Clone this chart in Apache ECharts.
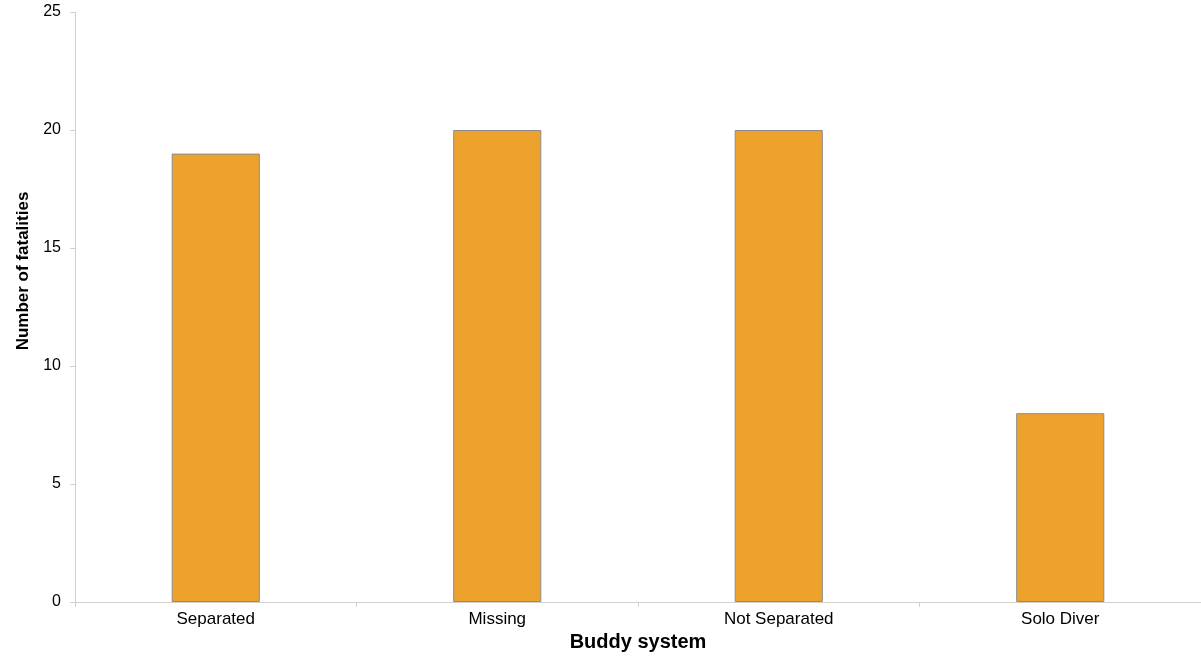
<!DOCTYPE html>
<html><head><meta charset="utf-8">
<script src="https://cdn.jsdelivr.net/npm/echarts@6/dist/echarts.min.js"></script>
<style>html,body{margin:0;padding:0;background:#fff}#c{width:1201px;height:656px}</style>
</head><body><div id="c"></div>
<script>
var categories = ["Separated", "Missing", "Not Separated", "Solo Diver"];
var fatalities = [19, 20, 20, 8];
var yTicks = [0, 5, 10, 15, 20, 25];

var chart = echarts.init(document.getElementById('c'), null, {renderer: 'canvas'});
chart.setOption({
  animation: false,
  backgroundColor: '#fff',
  grid: {left: 75, right: 0, top: 12, bottom: 54, containLabel: false, outerBoundsMode: 'none'},
  xAxis: {
    type: 'category', data: categories,
    name: 'Buddy system', nameLocation: 'middle', nameGap: 30,
    nameTextStyle: {fontFamily: 'Liberation Sans', fontWeight: 'bold', fontSize: 20, color: '#000'},
    axisLine: {lineStyle: {color: '#d0d0d0', width: 1}},
    axisTick: {show: true, length: 5, alignWithLabel: false, lineStyle: {color: '#d0d0d0'}},
    axisLabel: {fontFamily: 'Liberation Sans', fontSize: 17, color: '#000', margin: 9}
  },
  yAxis: {
    type: 'value', min: yTicks[0], max: yTicks[yTicks.length - 1], interval: 5,
    name: 'Number of fatalities', nameLocation: 'middle', nameGap: 43, nameRotate: 90,
    nameTextStyle: {fontFamily: 'Liberation Sans', fontWeight: 'bold', fontSize: 17, color: '#000', padding: [0, 0, 0, 72]},
    axisLine: {show: true, lineStyle: {color: '#d0d0d0', width: 1}},
    axisTick: {show: true, length: 5, lineStyle: {color: '#d0d0d0'}},
    splitLine: {show: false},
    axisLabel: {fontFamily: 'Liberation Sans', fontSize: 16, color: '#000', margin: 14}
  },
  series: [{
    type: 'bar', data: fatalities, barWidth: '31.3%',
    itemStyle: {color: '#EEA22E', borderColor: '#8a8a8a', borderWidth: 1}
  }]
});
</script></body></html>
